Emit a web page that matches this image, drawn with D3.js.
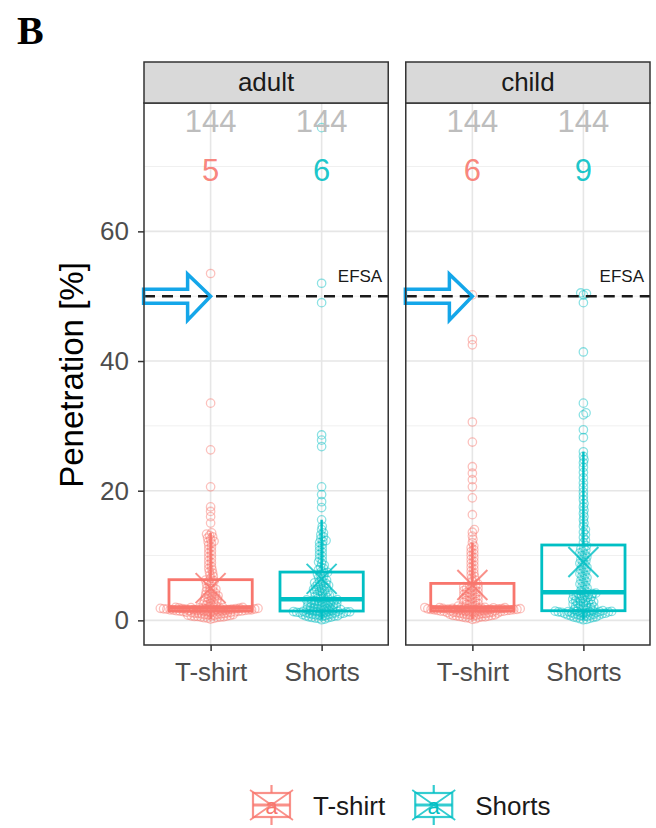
<!DOCTYPE html>
<html>
<head>
<meta charset="utf-8">
<script src="https://cdn.jsdelivr.net/npm/d3@7"></script>
<style>
  body { margin: 0; background: #fff; }
  text { font-family: 'Liberation Sans', Arial, sans-serif; }
</style>
</head>
<body>
<svg id="chart" width="656" height="828"></svg>
<script>
// facets, groups and reference line
var panels = ['adult', 'child'];
var categories = ['T-shirt', 'Shorts'];
var colors = ['#F8766D', '#00BFC4'];
var yTicks = [0, 20, 40, 60];
var yMinorTicks = [10, 30, 50, 70];
var efsaLimit = 50;

// coloured numbers printed above each group
var adultCounts = [5, 6];
var childCounts = [6, 9];

// penetration values [%], one per sample (144 per group)
var adultTshirt = [
    0.2, 0.3, 0.35, 0.4, 0.45, 0.5, 0.5, 0.55, 0.6, 0.6, 0.65, 0.7, 0.7, 0.75, 0.8, 0.8, 0.85, 0.9,
    0.9, 0.95, 1.0, 1.0, 1.05, 1.1, 1.1, 1.15, 1.2, 1.2, 1.25, 1.25, 1.3, 1.3, 1.35, 1.35, 1.4, 1.4,
    1.42, 1.44, 1.45, 1.47, 1.48, 1.5, 1.52, 1.53, 1.55, 1.56, 1.58, 1.6, 1.62, 1.63, 1.65, 1.66, 1.68, 1.7,
    1.72, 1.73, 1.75, 1.76, 1.78, 1.8, 1.82, 1.83, 1.85, 1.86, 1.88, 1.9, 1.91, 1.93, 1.94, 1.96, 1.97, 1.99,
    2.0, 2.1, 2.2, 2.3, 2.4, 2.5, 2.6, 2.7, 2.8, 2.9, 3.0, 3.1, 3.2, 3.3, 3.4, 3.5, 3.6, 3.7,
    3.8, 3.9, 4.0, 4.1, 4.2, 4.4, 4.5, 4.6, 4.8, 4.9, 5.0, 5.2, 5.4, 5.6, 5.8, 6.0, 6.1, 6.2,
    6.5, 6.8, 7.0, 7.3, 7.5, 7.8, 8.0, 8.3, 8.6, 8.9, 9.2, 9.5, 9.8, 10.1, 10.4, 10.7, 11.0, 11.3,
    11.6, 11.9, 12.1, 12.2, 12.5, 12.7, 12.9, 13.1, 13.3, 13.5, 15.0, 16.0, 16.8, 17.5, 20.6, 26.3, 33.5, 53.5
];
var adultShorts = [
    0.1, 0.2, 0.3, 0.35, 0.4, 0.45, 0.5, 0.55, 0.6, 0.65, 0.7, 0.7, 0.75, 0.8, 0.85, 0.9, 0.9, 0.95,
    1.0, 1.0, 1.05, 1.1, 1.1, 1.15, 1.2, 1.2, 1.25, 1.25, 1.3, 1.3, 1.32, 1.35, 1.36, 1.38, 1.4, 1.4,
    1.45, 1.5, 1.55, 1.6, 1.65, 1.7, 1.75, 1.8, 1.85, 1.9, 1.95, 2.0, 2.05, 2.1, 2.15, 2.2, 2.25, 2.3,
    2.35, 2.4, 2.45, 2.5, 2.55, 2.6, 2.65, 2.7, 2.75, 2.8, 2.85, 2.9, 2.95, 3.0, 3.05, 3.1, 3.15, 3.2,
    3.3, 3.4, 3.5, 3.6, 3.7, 3.8, 3.9, 4.0, 4.1, 4.2, 4.3, 4.4, 4.5, 4.6, 4.7, 4.8, 4.9, 5.0,
    5.1, 5.2, 5.3, 5.4, 5.5, 5.6, 5.7, 5.8, 5.9, 6.0, 6.2, 6.4, 6.6, 6.8, 7.0, 7.1, 7.3, 7.4,
    7.6, 7.8, 8.0, 8.2, 8.5, 8.8, 9.0, 9.3, 9.6, 9.9, 10.2, 10.5, 10.8, 11.1, 11.4, 11.7, 12.0, 12.2,
    12.3, 12.6, 12.9, 13.2, 13.5, 14.0, 14.5, 15.5, 17.4, 18.3, 19.4, 20.6, 26.8, 27.8, 28.6, 49.0, 52.0, 76.0
];
var childTshirt = [
    0.15, 0.25, 0.35, 0.4, 0.45, 0.5, 0.55, 0.55, 0.6, 0.65, 0.65, 0.7, 0.75, 0.75, 0.8, 0.85, 0.85, 0.9,
    0.95, 0.95, 1.0, 1.05, 1.05, 1.1, 1.12, 1.15, 1.18, 1.2, 1.22, 1.25, 1.28, 1.3, 1.33, 1.35, 1.38, 1.4,
    1.42, 1.43, 1.45, 1.46, 1.48, 1.5, 1.51, 1.53, 1.55, 1.57, 1.58, 1.6, 1.61, 1.63, 1.65, 1.67, 1.68, 1.7,
    1.71, 1.73, 1.75, 1.77, 1.78, 1.8, 1.81, 1.83, 1.85, 1.87, 1.88, 1.9, 1.91, 1.93, 1.95, 1.96, 1.98, 1.99,
    2.0, 2.1, 2.2, 2.3, 2.4, 2.5, 2.6, 2.7, 2.8, 2.9, 3.0, 3.1, 3.2, 3.3, 3.4, 3.5, 3.6, 3.7,
    3.8, 3.9, 4.0, 4.1, 4.2, 4.3, 4.4, 4.5, 4.6, 4.7, 4.8, 4.9, 5.0, 5.1, 5.2, 5.3, 5.4, 5.6,
    6.0, 6.2, 6.5, 6.8, 7.0, 7.3, 7.6, 7.9, 8.2, 8.5, 8.8, 9.1, 9.4, 9.7, 10.0, 10.3, 10.6, 10.9,
    11.2, 11.5, 12.0, 12.5, 13.0, 13.6, 14.0, 16.3, 18.9, 20.6, 21.7, 22.7, 23.7, 27.5, 30.6, 42.5, 43.3, 50.2
];
var childShorts = [
    0.1, 0.15, 0.25, 0.3, 0.4, 0.45, 0.5, 0.55, 0.6, 0.65, 0.7, 0.75, 0.8, 0.8, 0.85, 0.9, 0.95, 1.0,
    1.0, 1.05, 1.1, 1.1, 1.15, 1.2, 1.2, 1.25, 1.25, 1.3, 1.3, 1.32, 1.34, 1.36, 1.38, 1.4, 1.42, 1.45,
    1.5, 1.58, 1.66, 1.74, 1.82, 1.9, 1.98, 2.06, 2.14, 2.22, 2.3, 2.38, 2.46, 2.54, 2.62, 2.7, 2.78, 2.86,
    2.94, 3.02, 3.1, 3.18, 3.26, 3.34, 3.42, 3.5, 3.58, 3.66, 3.74, 3.82, 3.9, 3.98, 4.06, 4.14, 4.2, 4.25,
    4.4, 4.6, 4.8, 5.0, 5.2, 5.4, 5.6, 5.8, 6.0, 6.2, 6.4, 6.6, 6.8, 7.0, 7.2, 7.4, 7.6, 7.8,
    8.0, 8.2, 8.4, 8.6, 8.8, 9.0, 9.2, 9.4, 9.6, 9.8, 10.0, 10.2, 10.4, 10.6, 10.8, 11.0, 11.2, 11.5,
    12.0, 12.4, 12.8, 13.2, 13.6, 14.0, 14.5, 15.0, 15.5, 16.0, 16.5, 17.0, 17.5, 18.0, 18.6, 19.2, 19.8, 20.5,
    21.2, 22.0, 22.8, 23.6, 24.3, 24.8, 25.3, 26.0, 28.2, 29.4, 31.7, 32.0, 33.5, 41.4, 49.0, 50.2, 50.4, 50.5
];

var groups = [
    {panel: 'adult', cat: 'T-shirt', values: adultTshirt, count: adultCounts[0]},
    {panel: 'adult', cat: 'Shorts', values: adultShorts, count: adultCounts[1]},
    {panel: 'child', cat: 'T-shirt', values: childTshirt, count: childCounts[0]},
    {panel: 'child', cat: 'Shorts', values: childShorts, count: childCounts[1]}
];

var svg = d3.select('#chart');
var panelTop = 103, panelBottom = 645;

var y = d3.scaleLinear().domain([-3.8, 79.8]).range([panelBottom, panelTop]);
var panelScale = d3.scaleBand().domain(panels).range([144, 650]).paddingInner(0.067);
var pw = panelScale.bandwidth();
var x = d3.scalePoint().domain(categories).range([0, pw]).padding(0.6);
var color = d3.scaleOrdinal().domain(categories).range(colors);
var boxWidth = x.step() * 0.75;

// quartiles, whiskers (1.5 IQR) and mean
function boxStats(vals) {
    var s = vals.slice().sort(d3.ascending);
    var q1 = d3.quantile(s, 0.25), med = d3.quantile(s, 0.5), q3 = d3.quantile(s, 0.75);
    var iqr = q3 - q1;
    return {
        q1: q1, med: med, q3: q3,
        lo: d3.min(s.filter(v => v >= q1 - 1.5 * iqr)),
        hi: d3.max(s.filter(v => v <= q3 + 1.5 * iqr)),
        mean: d3.mean(s)
    };
}

// simple beeswarm: place each point at the closest free offset from the centre
function swarm(vals, gap) {
    var pts = vals.slice().sort(d3.ascending).map(v => ({v: v, y: y(v), x: 0}));
    var placed = [];
    pts.forEach(function(p) {
        var near = placed.filter(q => Math.abs(q.y - p.y) < gap);
        var cands = [0];
        near.forEach(function(q) {
            var dx = Math.sqrt(gap * gap - (q.y - p.y) * (q.y - p.y));
            cands.push(q.x + dx, q.x - dx);
        });
        cands.sort((a, b) => Math.abs(a) - Math.abs(b));
        for (var i = 0; i < cands.length; i++) {
            var c = cands[i];
            var ok = near.every(q => (q.x - c) * (q.x - c) + (q.y - p.y) * (q.y - p.y) >= gap * gap - 0.01);
            if (ok) { p.x = c; break; }
        }
        placed.push(p);
    });
    return pts;
}

// title letter
svg.append('text')
    .attr('x', 17)
    .attr('y', 44)
    .style('font-family', "'Liberation Serif', 'Times New Roman', serif")
    .style('font-weight', 'bold')
    .style('font-size', '40px')
    .text('B');

// y axis title
svg.append('text')
    .attr('transform', 'translate(83,375) rotate(-90)')
    .attr('text-anchor', 'middle')
    .style('font-size', '33px')
    .style('fill', '#000')
    .text('Penetration [%]');

svg.append('defs').append('clipPath').attr('id', 'panel-clip')
    .append('rect')
    .attr('x', 0).attr('y', panelTop)
    .attr('width', pw).attr('height', panelBottom - panelTop);

panels.forEach(function(panel, pi) {
    var g = svg.append('g').attr('transform', 'translate(' + panelScale(panel) + ',0)');

    g.append('rect')
        .attr('x', 0).attr('y', panelTop)
        .attr('width', pw).attr('height', panelBottom - panelTop)
        .attr('fill', '#fff');

    // grid
    g.selectAll('.minor').data(yMinorTicks).enter().append('line')
        .attr('x1', 0).attr('x2', pw)
        .attr('y1', d => y(d)).attr('y2', d => y(d))
        .attr('stroke', '#f0f0f0').attr('stroke-width', 1);
    g.selectAll('.major').data(yTicks).enter().append('line')
        .attr('x1', 0).attr('x2', pw)
        .attr('y1', d => y(d)).attr('y2', d => y(d))
        .attr('stroke', '#e6e6e6').attr('stroke-width', 1.6);
    g.selectAll('.vgrid').data(categories).enter().append('line')
        .attr('x1', d => x(d)).attr('x2', d => x(d))
        .attr('y1', panelTop).attr('y2', panelBottom)
        .attr('stroke', '#e6e6e6').attr('stroke-width', 1.6);

    var plot = g.append('g').attr('clip-path', 'url(#panel-clip)');
    var panelGroups = groups.filter(d => d.panel === panel);

    panelGroups.forEach(function(grp) {
        var cx = x(grp.cat);
        var col = color(grp.cat);
        var st = boxStats(grp.values);

        // jittered sample points
        plot.append('g').selectAll('circle').data(swarm(grp.values, 3.3)).enter().append('circle')
            .attr('cx', d => cx + d.x)
            .attr('cy', d => d.y)
            .attr('r', 4.2)
            .attr('fill', 'none')
            .attr('stroke', col)
            .attr('stroke-width', 1.3)
            .attr('stroke-opacity', 0.45);

        // whiskers
        plot.append('line')
            .attr('x1', cx).attr('x2', cx)
            .attr('y1', y(st.q3)).attr('y2', y(st.hi))
            .attr('stroke', col).attr('stroke-width', 2.4);
        plot.append('line')
            .attr('x1', cx).attr('x2', cx)
            .attr('y1', y(st.q1)).attr('y2', y(st.lo))
            .attr('stroke', col).attr('stroke-width', 2.4);

        // box and median
        plot.append('rect')
            .attr('x', cx - boxWidth / 2).attr('width', boxWidth)
            .attr('y', y(st.q3)).attr('height', y(st.q1) - y(st.q3))
            .attr('fill', 'none')
            .attr('stroke', col).attr('stroke-width', 2.8);
        plot.append('line')
            .attr('x1', cx - boxWidth / 2).attr('x2', cx + boxWidth / 2)
            .attr('y1', y(st.med)).attr('y2', y(st.med))
            .attr('stroke', col).attr('stroke-width', 4.5);

        // mean marker
        var my = y(st.mean), s = 15;
        plot.append('path')
            .attr('d', 'M' + (cx - s) + ',' + (my - s) + 'L' + (cx + s) + ',' + (my + s) +
                'M' + (cx - s) + ',' + (my + s) + 'L' + (cx + s) + ',' + (my - s))
            .attr('stroke', col).attr('stroke-width', 2).attr('stroke-opacity', 0.8)
            .attr('fill', 'none');

        // sample size and count labels
        g.append('text')
            .attr('x', cx).attr('y', 132)
            .attr('text-anchor', 'middle')
            .style('font-size', '31px')
            .style('fill', '#bdbdbd')
            .text(grp.values.length);
        g.append('text')
            .attr('x', cx).attr('y', 181)
            .attr('text-anchor', 'middle')
            .style('font-size', '31px')
            .style('fill', col)
            .style('fill-opacity', 0.9)
            .text(grp.count);
    });

    // EFSA limit
    g.append('line')
        .attr('x1', 0).attr('x2', pw)
        .attr('y1', y(efsaLimit)).attr('y2', y(efsaLimit))
        .attr('stroke', '#1a1a1a').attr('stroke-width', 2.6)
        .attr('stroke-dasharray', '11,7');
    g.append('text')
        .attr('x', pw - 6).attr('y', y(efsaLimit) - 14)
        .attr('text-anchor', 'end')
        .style('font-size', '17px')
        .style('fill', '#1a1a1a')
        .text('EFSA');

    // blue arrow pointing at the limit
    var tx = x(categories[0]), ty = y(efsaLimit);
    var arrow = [[tx - 67, ty - 7], [tx - 23, ty - 7], [tx - 23, ty - 22], [tx, ty],
        [tx - 23, ty + 24], [tx - 23, ty + 7], [tx - 67, ty + 7]];
    g.append('path')
        .attr('d', d3.line()(arrow) + 'Z')
        .attr('fill', 'none')
        .attr('stroke', '#14a6e9')
        .attr('stroke-width', 3.5);

    // panel border
    g.append('rect')
        .attr('x', 0).attr('y', panelTop)
        .attr('width', pw).attr('height', panelBottom - panelTop)
        .attr('fill', 'none')
        .attr('stroke', '#333').attr('stroke-width', 1.5);

    // strip
    g.append('rect')
        .attr('x', 0).attr('y', 62)
        .attr('width', pw).attr('height', panelTop - 62)
        .attr('fill', '#d9d9d9')
        .attr('stroke', '#333').attr('stroke-width', 1.5);
    g.append('text')
        .attr('x', pw / 2).attr('y', 91)
        .attr('text-anchor', 'middle')
        .style('font-size', '26px')
        .style('fill', '#1a1a1a')
        .text(panel);

    // x axis
    var xAxisG = g.append('g')
        .attr('transform', 'translate(0,' + panelBottom + ')')
        .call(d3.axisBottom(x).tickSize(6).tickPadding(12));
    xAxisG.select('.domain').remove();
    xAxisG.selectAll('line').attr('stroke', '#333').attr('stroke-width', 1.5);
    xAxisG.selectAll('text')
        .attr('font-family', null)
        .style('font-size', '26px')
        .style('fill', '#4d4d4d');

    if (pi === 0) {
        var yAxisG = g.append('g').call(d3.axisLeft(y).tickValues(yTicks).tickSize(6).tickPadding(9));
        yAxisG.select('.domain').remove();
        yAxisG.selectAll('line').attr('stroke', '#333').attr('stroke-width', 1.5);
        yAxisG.selectAll('text')
            .attr('font-family', null)
            .style('font-size', '26px')
            .style('fill', '#4d4d4d');
    }
});

// legend
var legend = svg.append('g').attr('transform', 'translate(250,805)');
var lx = 0;
categories.forEach(function(cat) {
    var col = color(cat);
    var key = legend.append('g').attr('transform', 'translate(' + lx + ',0)')
        .attr('stroke', col).attr('fill', 'none').attr('stroke-opacity', 0.8);
    key.append('line').attr('x1', 21.5).attr('x2', 21.5).attr('y1', -20).attr('y2', -12).attr('stroke-width', 2.2);
    key.append('line').attr('x1', 21.5).attr('x2', 21.5).attr('y1', 12).attr('y2', 20).attr('stroke-width', 2.2);
    key.append('rect').attr('x', 3).attr('y', -12).attr('width', 37).attr('height', 24).attr('stroke-width', 2.2);
    key.append('line').attr('x1', 3).attr('x2', 40).attr('y1', 0).attr('y2', 0).attr('stroke-width', 3);
    key.append('path').attr('d', 'M0,-15L43,15M0,15L43,-15').attr('stroke-width', 1.8);
    key.append('text')
        .attr('x', 21.5).attr('y', 9)
        .attr('text-anchor', 'middle')
        .attr('stroke', 'none')
        .style('fill', col)
        .style('font-size', '22px')
        .text('a');
    var label = legend.append('text')
        .attr('x', lx + 63).attr('y', 10)
        .style('font-size', '26px')
        .style('fill', '#1a1a1a')
        .text(cat);
    lx += 63 + label.node().getComputedTextLength() + 27;
});
</script>
</body>
</html>
